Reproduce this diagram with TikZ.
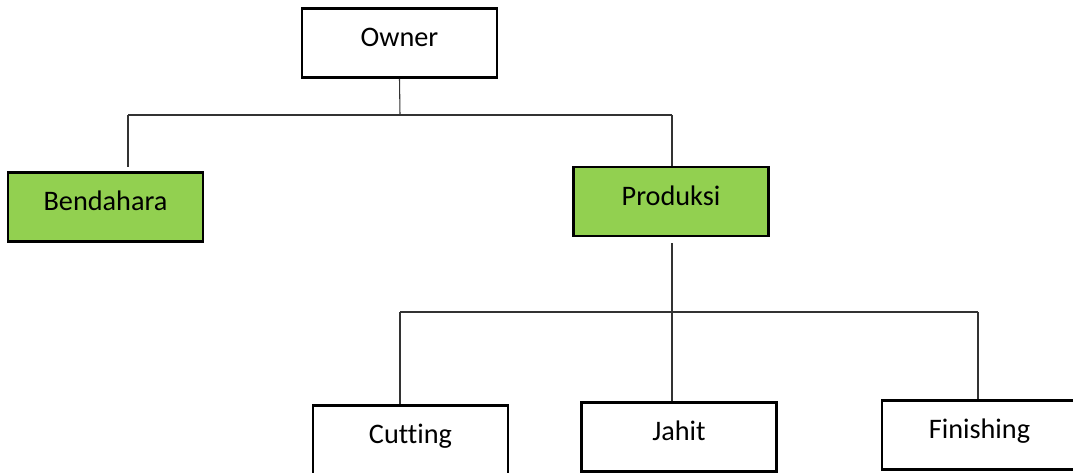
\documentclass[tikz,border=0pt]{standalone}
\usepackage{fontspec}
\setmainfont{Carlito}[Ligatures=NoCommon]
\definecolor{unitgreen}{RGB}{146,208,80}
\begin{document}
\begin{tikzpicture}[x=0.75pt,y=-0.75pt,
  box/.style={draw=black,line width=1.8pt,minimum width=146pt,minimum height=52pt,
    inner sep=0pt,text height=0.8em,text depth=0.24em,
    font=\fontsize{21.2}{25}\selectfont},
  greenbox/.style={box,fill=unitgreen},
  conn/.style={draw=black!80,line width=0.8pt}]
\useasboundingbox (0,0) rectangle (1073,473);
\clip (0,0) rectangle (1073,473);

% units
\node[box]      (owner)     at (399.5,43)  {Owner};
\node[greenbox] (bendahara) at (105.5,207) {Bendahara};
\node[greenbox] (produksi)  at (671,201.5) {Produksi};
\node[box]      (cutting)   at (410.5,440) {Cutting};
\node[box]      (jahit)     at (679,437)   {Jahit};
\node[box]      (finishing) at (979.5,435) {Finishing};

% junction points
\coordinate (top)  at (400,115);
\coordinate (bleft) at (128,115);
\coordinate (bright) at (672,115);
\coordinate (mid)  at (672,312);
\coordinate (cleft) at (400,312);
\coordinate (cright) at (978,312);

% upper level
\draw[conn] (owner.south) -- (top);
\draw[conn] (bleft) -- (bright);
\draw[conn,shorten >=3pt] (bleft) -- (bendahara.north -| bleft);
\draw[conn] (bright) -- (produksi.north -| bright);

% lower level
\draw[conn,shorten <=4.5pt] (produksi.south -| mid) -- (mid);
\draw[conn] (cleft) -- (cright);
\draw[conn] (cleft) -- (cutting.north -| cleft);
\draw[conn] (mid) -- (jahit.north -| mid);
\draw[conn] (cright) -- (finishing.north -| cright);
\end{tikzpicture}
\end{document}
